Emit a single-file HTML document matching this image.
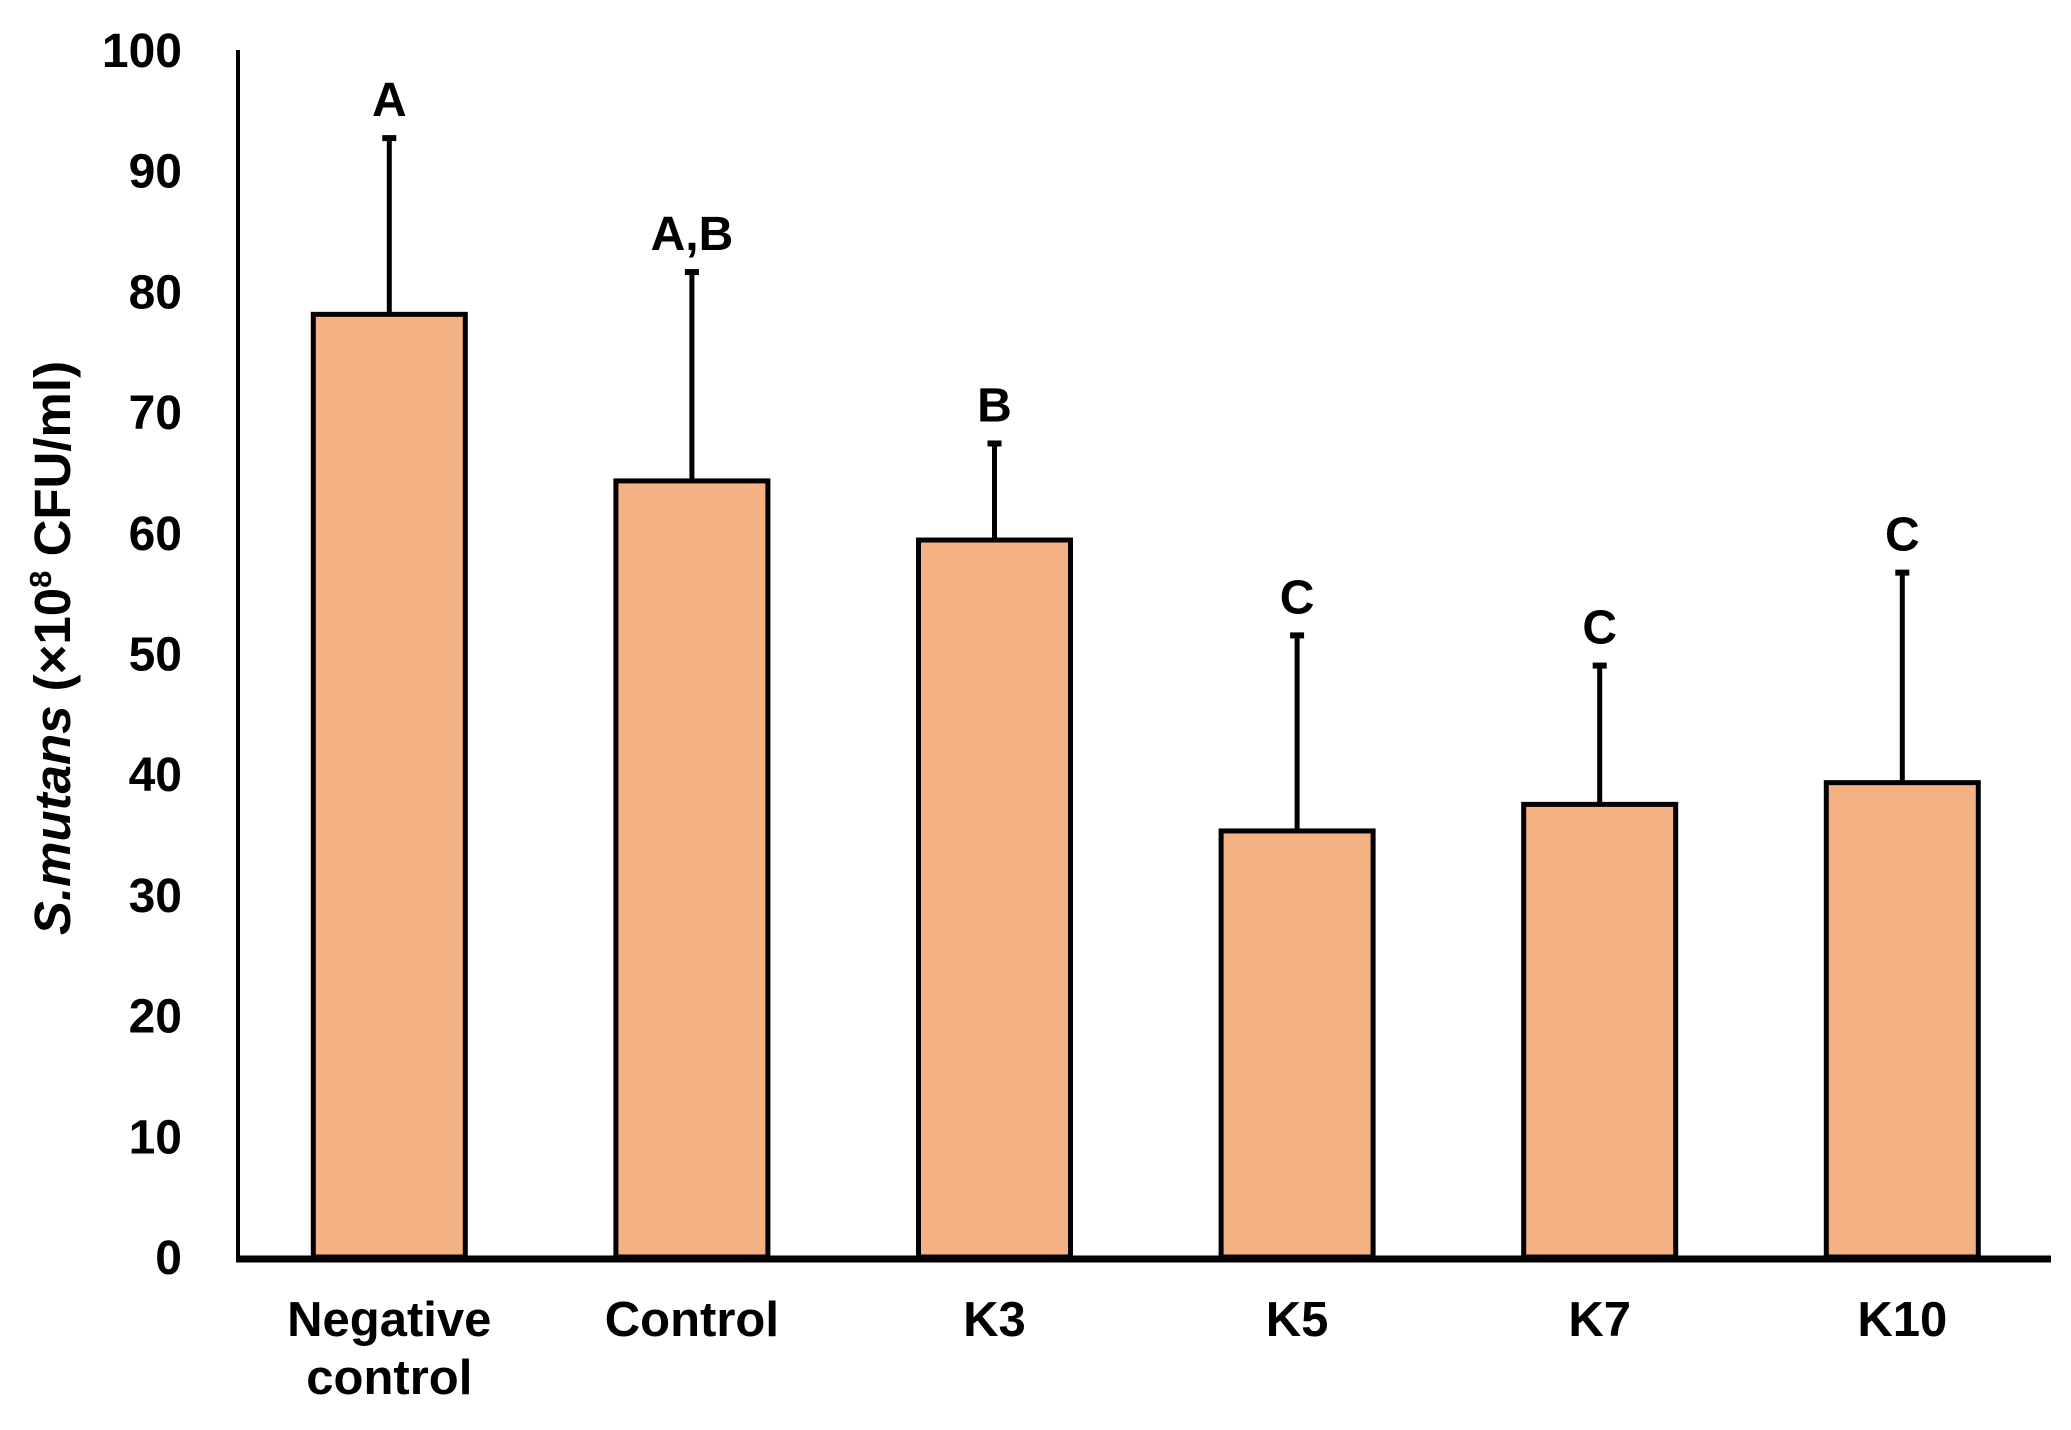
<!DOCTYPE html>
<html><head><meta charset="utf-8"><style>
html,body{margin:0;padding:0;background:#fff;}
svg{display:block;font-family:"Liberation Sans",Arial,sans-serif;font-weight:bold;}
</style></head><body>
<svg id="chart" width="2071" height="1430" viewBox="0 0 2071 1430">
<g id="g"></g>
</svg>
<script>
const categories = [["Negative","control"],["Control"],["K3"],["K5"],["K7"],["K10"]];
const means = [78.1, 64.3, 59.4, 35.3, 37.5, 39.3];
const errors = [14.6, 17.3, 8.0, 16.2, 11.5, 17.4];
const letters = ["A","A,B","B","C","C","C"];
const yTicks = [0,10,20,30,40,50,60,70,80,90,100];

const NS="http://www.w3.org/2000/svg";
const g=document.getElementById('g');
const x0=238, x1=2051, y0=1257, yTop=50, catW=302.6, barW=152;
const yMax=100;
function y(v){return y0-(v/yMax)*(y0-yTop);}
function cx(i){return x0+catW*(i+0.5);}
function mk(tag,attrs,text){const e=document.createElementNS(NS,tag);for(const k in attrs)e.setAttribute(k,attrs[k]);if(text!==undefined)e.textContent=text;g.appendChild(e);return e;}

yTicks.forEach(t=>{
  const e=mk('text',{x:182,y:y(t)+17,'text-anchor':'end','font-size':48},String(t));
  
  
});

means.forEach((m,i)=>{
  const c=cx(i);
  const et=y(m+errors[i]);
  const l=mk('line',{x1:c,y1:y(m),x2:c,y2:et,stroke:'#000','stroke-width':5});
  
  
  const cap=mk('line',{x1:c-7,y1:et,x2:c+7,y2:et,stroke:'#000','stroke-width':6});
  
  
  const r=mk('rect',{x:c-barW/2,y:y(m),width:barW,height:y0-y(m),fill:'#F4B183',stroke:'#000','stroke-width':5});
  
  
  const t=mk('text',{x:c,y:et-22,'text-anchor':'middle','font-size':48},letters[i]);
  
  
  categories[i].forEach((line,j)=>{
    const ct=mk('text',{x:c,y:1336+j*58,'text-anchor':'middle','font-size':49},line);
    
    
  });
});

const ya=mk('line',{x1:x0,y1:yTop,x2:x0,y2:y0+3,stroke:'#000','stroke-width':4});


const xa=mk('line',{x1:x0-2,y1:y0+2,x2:x1,y2:y0+2,stroke:'#000','stroke-width':7});



const title=mk('text',{transform:'translate(70,648) rotate(-90)','text-anchor':'middle','font-size':51});


title.innerHTML='<tspan font-style="italic">S.mutans</tspan> (×10<tspan font-size="31" dy="-19">8</tspan><tspan dy="19"> CFU/ml)</tspan>';
</script>
</body></html>
